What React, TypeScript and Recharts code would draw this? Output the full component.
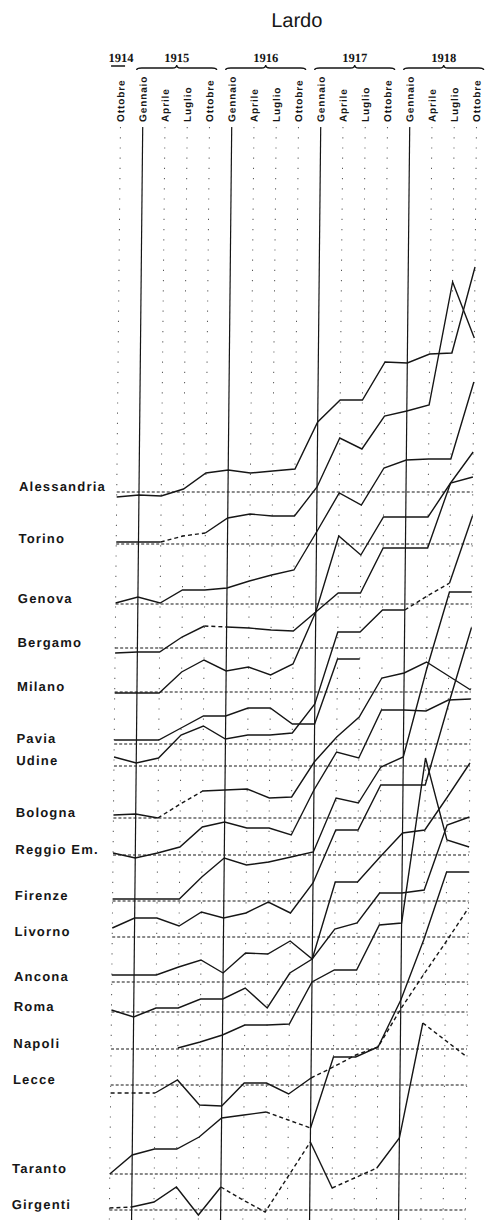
import React from 'react';
import { LineChart, Line, XAxis, YAxis, ReferenceLine } from 'recharts';

// quarters from Ottobre 1914 to Ottobre 1918
const quarters = ['Ottobre', 'Gennaio', 'Aprile', 'Luglio', 'Ottobre', 'Gennaio', 'Aprile', 'Luglio', 'Ottobre',
	'Gennaio', 'Aprile', 'Luglio', 'Ottobre', 'Gennaio', 'Aprile', 'Luglio', 'Ottobre'];
const years = ['1914', '1915', '1916', '1917', '1918'];
const yearPos = [0, 2.5, 6.5, 10.5, 14.5];
const januaries = [1, 5, 9, 13];

const cities = ['Alessandria', 'Torino', 'Genova', 'Bergamo', 'Milano', 'Pavia', 'Udine', 'Bologna', 'Reggio Em.',
	'Firenze', 'Livorno', 'Ancona', 'Roma', 'Napoli', 'Lecce', 'Taranto', 'Girgenti'];
const baselines = [72.8, 67.6, 61.6, 57.2, 52.8, 47.6, 45.4, 40.2, 36.5, 31.9, 28.3, 23.8, 20.8, 17.1, 13.5, 4.6, 1.0];

const alessandria = [72.3, 72.5, 72.4, 73.1, 74.7, 75.0, 74.7, 74.9, 75.1, 79.8, 82.0, 82.0, 85.8, 85.7, 86.6, 86.7, 95.3];
const torino = [67.8, 67.8, 67.8, 68.4, 68.7, 70.2, 70.6, 70.4, 70.4, 73.3, 78.2, 77.1, 80.4, 80.9, 81.5, 93.8, 88.2];
const genova = [61.7, 62.3, 61.7, 63.0, 63.0, 63.2, 63.9, 64.5, 65.0, 68.8, 72.7, 71.5, 75.2, 76.0, 76.1, 76.1, 83.8];
const bergamo = [56.7, 56.8, 56.8, 58.3, 59.4, 59.3, 59.2, 59.0, 58.9, 60.8, 62.7, 62.7, 67.2, 67.2, 67.2, 73.7, 74.3];
const milano = [52.7, 52.7, 52.7, 54.8, 56.0, 54.9, 55.3, 54.5, 55.6, 60.8, 68.4, 66.5, 70.3, 70.3, 70.3, 73.7, 76.8];
const pavia = [48.0, 48.0, 48.0, 49.2, 50.4, 50.4, 51.2, 51.2, 49.6, 49.6, 56.1, 56.1, null, null, null, null, null];
const udine = [46.3, 45.7, 46.2, 48.5, 49.4, 48.1, 48.5, 48.5, 48.7, 51.6, 58.8, 58.8, 61.0, 61.0, 62.4, 63.7, 70.4];
const bologna = [40.5, 40.6, 40.2, 41.6, 42.9, 43.0, 43.1, 42.2, 42.3, 45.8, 48.3, 50.3, 54.2, 54.7, 55.8, 54.4, 53.0];
const reggio = [36.7, 36.2, 36.7, 37.3, 39.3, 39.8, 39.2, 39.2, 38.5, 43.0, 46.8, 46.2, 51.0, 51.0, 50.9, 52.0, 52.1];
const firenze = [32.1, 32.1, 32.1, 32.1, 34.3, 36.2, 35.5, 35.8, 36.3, 36.8, 42.2, 41.7, 45.3, 46.3, 55.0, 62.8, 62.8];
const livorno = [29.2, 30.2, 30.2, 29.4, 30.8, 30.2, 30.7, 31.8, 30.7, 33.7, 39.0, 39.0, 43.5, 43.5, 43.5, 51.5, 59.2];
const ancona = [24.5, 24.5, 24.5, 25.3, 26.0, 24.7, 26.7, 26.6, 27.9, 26.1, 33.8, 33.8, 36.3, 38.7, 39.0, 42.3, 45.7];
const roma = [21.0, 20.3, 21.2, 21.2, 22.1, 22.1, 23.2, 21.2, 24.7, 26.1, 29.1, 29.7, 32.7, 32.7, 33.0, 39.5, 40.3];
const napoli = [null, null, null, 17.2, 17.8, 18.5, 19.5, 19.5, 19.6, 23.8, 25.0, 25.0, 29.5, 29.7, 46.2, 38.0, 37.3];
const lecce = [12.7, 12.7, 12.7, 14.0, 11.5, 11.4, 13.7, 13.7, 12.6, 14.2, 15.3, 16.5, 17.3, 21.1, 24.5, 27.8, 31.2];
const taranto = [4.6, 6.5, 7.1, 7.1, 8.3, 10.2, 10.5, 10.8, 10.0, 9.2, 16.3, 16.3, 17.3, 22.0, 28.0, 34.8, 34.8];
const girgenti = [1.2, 1.3, 1.8, 3.3, 0.5, 3.3, 2.0, 0.8, 4.3, 7.8, 3.2, 4.2, 5.2, 8.2, 19.7, 18.0, 16.3];

const series: (number | null)[][] = [alessandria, torino, genova, bergamo, milano, pavia, udine, bologna, reggio,
	firenze, livorno, ancona, roma, napoli, lecce, taranto, girgenti];

// stretches (quarter index from..to) drawn with a broken line
const dashedSpans: number[][][] = [[], [[2, 4]], [], [[4, 5]], [], [], [[13, 15]], [[2, 4]], [], [], [], [], [], [],
	[[0, 2], [9, 16]], [[7, 9]], [[0, 1], [5, 9], [10, 12], [14, 16]]];

// split every city into solid / dashed runs
type Run = { key: string; dashed: boolean };
const runs: Run[] = [];
const rows: Record<string, number | null>[] = quarters.map((_, i) => ({ i }));
series.forEach((vals, c) => {
	const isDashed = (k: number) => dashedSpans[c].some(([a, b]) => k >= a && k + 1 <= b);
	let cur: Run | null = null;
	for (let k = 0; k < vals.length - 1; k++) {
		if (vals[k] == null || vals[k + 1] == null) { cur = null; continue; }
		const d = isDashed(k);
		if (!cur || cur.dashed !== d) {
			cur = { key: `c${c}r${runs.length}`, dashed: d };
			runs.push(cur);
			rows[k][cur.key] = vals[k];
		}
		rows[k + 1][cur.key] = vals[k + 1];
	}
});
rows.forEach((r) => runs.forEach((run) => { if (r[run.key] === undefined) r[run.key] = null; }));

const ink = '#161616';

const QuarterTick = (props: any) => {
	const { x, payload } = props;
	return (
		<text x={x} y={122} transform={`rotate(-90 ${x} 122)`} dy="0.36em" textAnchor="start"
			fontFamily="Liberation Sans, Arial, sans-serif" fontSize={10} fontWeight={700} letterSpacing={0.9} fill={ink}>
			{quarters[payload.value]}
		</text>
	);
};

const YearTick = (props: any) => {
	const { x, payload } = props;
	const k = yearPos.indexOf(payload.value);
	const y = 68;
	const brace = k === 0
		? `M${x - 10},${y - 2} L${x + 4},${y - 2}`
		: `M${x - 40},${y + 2} Q${x - 40},${y} ${x - 35},${y} L${x - 4},${y} Q${x},${y} ${x},${y - 3} Q${x},${y} ${x + 4},${y} L${x + 35},${y} Q${x + 40},${y} ${x + 40},${y + 2}`;
	return (
		<g>
			<text x={x} y={62} textAnchor="middle" fontFamily="Liberation Serif, serif" fontSize={12.5} fontWeight={700} fill={ink}>
				{years[k]}
			</text>
			<path d={brace} fill="none" stroke={ink} strokeWidth={1.4} />
		</g>
	);
};

const CityLabel = (props: any) => {
	const { viewBox, name } = props;
	return (
		<text x={24} y={viewBox.y - 6} dy="0.35em" fontFamily="Liberation Sans, Arial, sans-serif" fontSize={13}
			fontWeight={700} letterSpacing={1.2} fill={ink}>
			{name}
		</text>
	);
};

const App: React.FC = () => {
	return (
		<div style={{ position: 'absolute', left: 0, top: 0, width: 488, height: 1223, background: '#fff',
			transform: 'skewX(-0.584deg)', transformOrigin: '0 0' }}>
			<div style={{ position: 'absolute', left: 247, top: 9, width: 100, textAlign: 'center',
				fontFamily: 'Liberation Sans, Arial, sans-serif', fontSize: 20, color: ink }}>Lardo</div>
			<LineChart width={488} height={1223} data={rows} margin={{ top: 125, right: 10.25, bottom: 3, left: 121.75 }}>
				<XAxis xAxisId="q" dataKey="i" type="number" domain={[0, 16]} ticks={quarters.map((_, i) => i)} interval={0}
					orientation="top" height={1} axisLine={false} tickLine={false} tick={QuarterTick} />
				<XAxis xAxisId="yr" dataKey="i" type="number" domain={[0, 16]} ticks={yearPos} interval={0}
					orientation="top" height={1} axisLine={false} tickLine={false} tick={YearTick} />
				<YAxis type="number" domain={[0, 109.3]} hide />
				{quarters.map((_, i) => (
					januaries.includes(i)
						? <ReferenceLine key={`v${i}`} xAxisId="q" x={i} stroke={ink} strokeWidth={1.2} />
						: <ReferenceLine key={`v${i}`} xAxisId="q" x={i} stroke="#555" strokeWidth={1} strokeDasharray="1.2 9" />
				))}
				{cities.map((name, c) => (
					<ReferenceLine key={`b${c}`} xAxisId="q" y={baselines[c]} stroke={ink} strokeWidth={1.1}
						strokeDasharray="3 2" label={<CityLabel name={name} />} />
				))}
				{runs.map((run) => (
					<Line key={run.key} xAxisId="q" type="linear" dataKey={run.key} stroke={ink} strokeWidth={1.4}
						strokeDasharray={run.dashed ? '4 3' : undefined} dot={false} activeDot={false}
						connectNulls={false} isAnimationActive={false} />
				))}
			</LineChart>
		</div>
	);
};

export default App;
